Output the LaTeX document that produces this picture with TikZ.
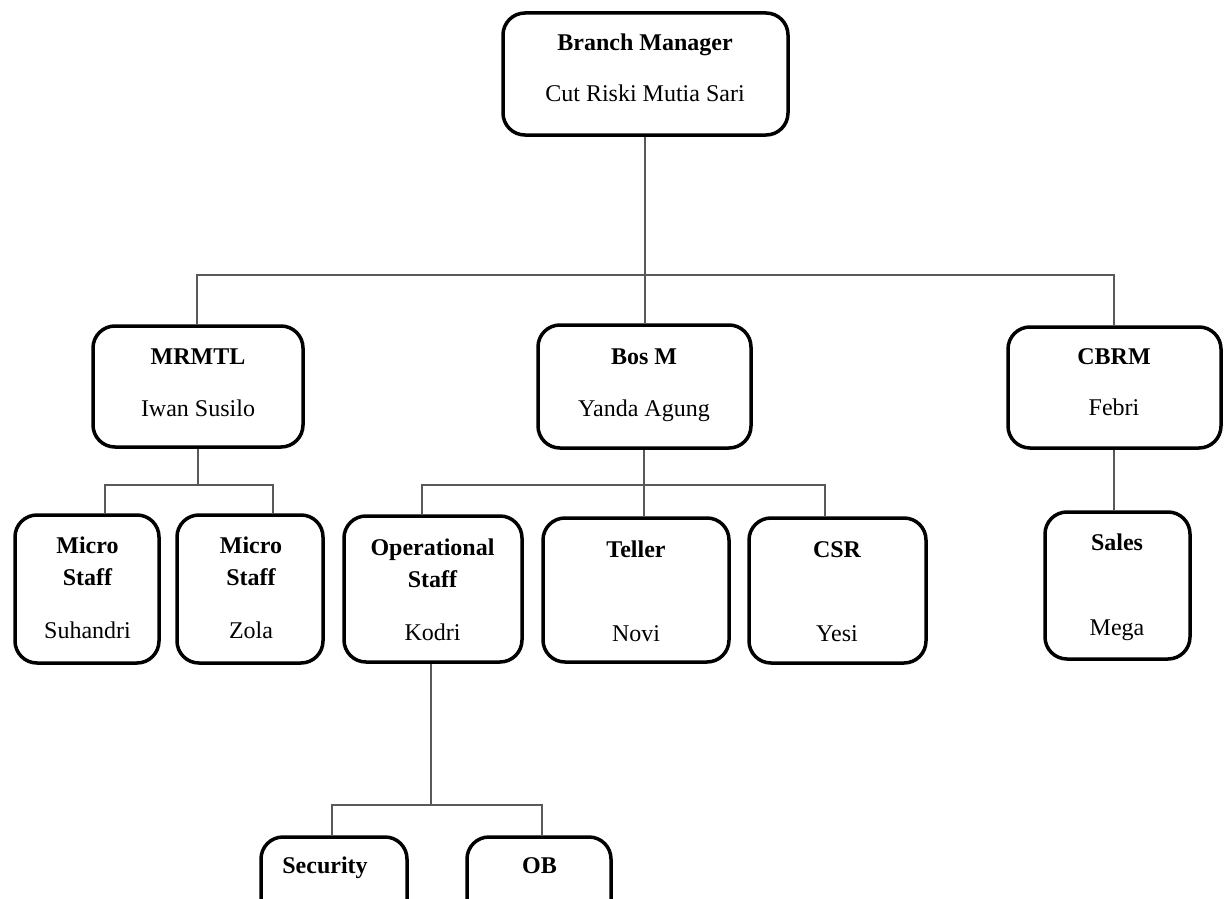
\documentclass[tikz,border=0pt]{standalone}
\usepackage{fontspec}
\setmainfont{Liberation Serif}
\begin{document}
\begin{tikzpicture}[x=1pt,y=-1pt,
  box/.style={draw=black, line width=3.5pt, rounded corners=22pt, inner sep=0pt, fill=white},
  conn/.style={draw=black!65, line width=1.7pt},
  ttl/.style={anchor=base, inner sep=0pt, font=\fontsize{24}{28}\selectfont\bfseries},
  nm/.style={anchor=base, inner sep=0pt, font=\fontsize{24}{28}\selectfont}]
\useasboundingbox (0,0) rectangle (1229,899);
% boxes
\node[box, minimum width=285pt, minimum height=122pt] (bm) at (645.5,74) {};
\node[box, minimum width=210pt, minimum height=121pt] (mrmtl) at (198,386.5) {};
\node[box, minimum width=213pt, minimum height=123pt] (bosm) at (644.5,386.5) {};
\node[box, minimum width=213pt, minimum height=121pt] (cbrm) at (1114.5,387.5) {};
\node[box, minimum width=144pt, minimum height=148pt] (ms1) at (87,589) {};
\node[box, minimum width=146pt, minimum height=148pt] (ms2) at (250,589) {};
\node[box, minimum width=178pt, minimum height=146pt] (ops) at (433,589) {};
\node[box, minimum width=186pt, minimum height=144pt] (teller) at (636,590) {};
\node[box, minimum width=177pt, minimum height=145pt] (csr) at (837.5,590.5) {};
\node[box, minimum width=145pt, minimum height=147pt] (sales) at (1117.5,585.5) {};
\node[box, minimum width=146pt, minimum height=120pt] (sec) at (334,897) {};
\node[box, minimum width=144pt, minimum height=120pt] (ob) at (539,897) {};
% junctions
\coordinate (h1) at (645,275);
\coordinate (h2) at (198,485);
\coordinate (h3) at (644,485);
\coordinate (h4) at (431,805);
% connectors
\draw[conn] (bm.south -| h1) -- (h1);
\draw[conn] ([xshift=-1pt]mrmtl.north) |- ([xshift=-0.5pt]cbrm.north |- h1) -- ([xshift=-0.5pt]cbrm.north);
\draw[conn] (h1) -- (bosm.north -| h1);
\draw[conn] (mrmtl.south) -- (h2);
\draw[conn] ([xshift=18pt]ms1.north) |- ([xshift=23pt]ms2.north |- h2) -- ([xshift=23pt]ms2.north);
\draw[conn] (bosm.south -| h3) -- (h3);
\draw[conn] ([xshift=-11pt]ops.north) |- ([xshift=-12.5pt]csr.north |- h3) -- ([xshift=-12.5pt]csr.north);
\draw[conn] (h3) -- (teller.north -| h3);
\draw[conn] ([xshift=-0.5pt]cbrm.south) -- ([xshift=-0.5pt]cbrm.south |- sales.north);
\draw[conn] (ops.south -| h4) -- (h4);
\draw[conn] ([xshift=-2pt]sec.north) |- ([xshift=3pt]ob.north |- h4) -- ([xshift=3pt]ob.north);
% texts
\node[ttl] (t1) at (645,51) {Branch Manager};
\node[nm]  (n1) at (645,102) {Cut Riski Mutia Sari};
\node[ttl] (t2) at (198,364) {MRMTL};
\node[nm]  (n2) at (198,416) {Iwan Susilo};
\node[ttl] (t3) at (644,364) {Bos M};
\node[nm]  (n3) at (644,416) {Yanda Agung};
\node[ttl] (t4) at (1114,364) {CBRM};
\node[nm]  (n4) at (1114,415) {Febri};
\node[ttl] (t5a) at (87.5,553) {Micro};
\node[ttl] (t5b) at (87.5,585) {Staff};
\node[nm]  (n5) at (87.5,638) {Suhandri};
\node[ttl] (t6a) at (251,553) {Micro};
\node[ttl] (t6b) at (251,585) {Staff};
\node[nm]  (n6) at (251,638) {Zola};
\node[ttl] (t7a) at (432.5,555) {Operational};
\node[ttl] (t7b) at (432.5,587) {Staff};
\node[nm]  (n7) at (432.5,640) {Kodri};
\node[ttl] (t8) at (636,557) {Teller};
\node[nm]  (n8) at (636,641) {Novi};
\node[ttl] (t9) at (837,557) {CSR};
\node[nm]  (n9) at (837,641) {Yesi};
\node[ttl] (t10) at (1117,550) {Sales};
\node[nm]  (n10) at (1117,635) {Mega};
\node[ttl] (t11) at (325,873) {Security};
\node[ttl] (t12) at (539.5,873) {OB};
\end{tikzpicture}
\end{document}
